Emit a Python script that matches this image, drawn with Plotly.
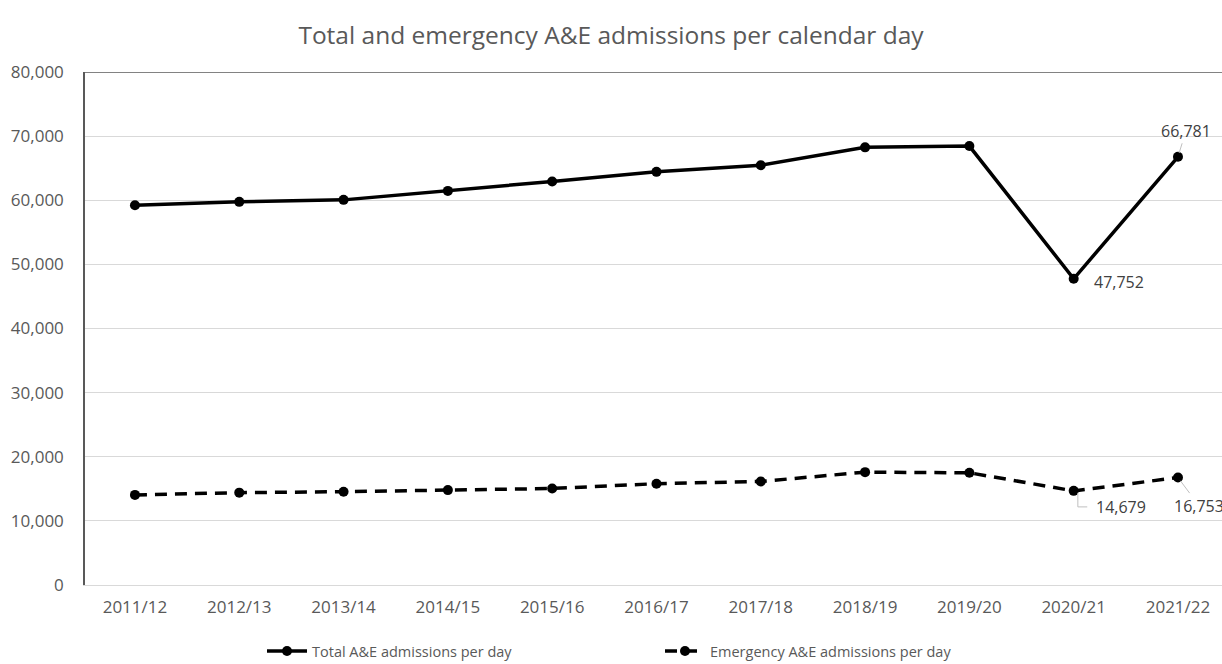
import plotly.graph_objects as go

years = ["2011/12", "2012/13", "2013/14", "2014/15", "2015/16", "2016/17",
         "2017/18", "2018/19", "2019/20", "2020/21", "2021/22"]
total = [59230, 59750, 60060, 61460, 62930, 64430, 65470, 68250, 68450, 47752, 66781]
emergency = [14050, 14400, 14550, 14800, 15050, 15800, 16150, 17600, 17500, 14679, 16753]
y_ticks = [0, 10000, 20000, 30000, 40000, 50000, 60000, 70000, 80000]

FONT = "'Open Sans', Calibri, sans-serif"
GRAY = "#595959"

fig = go.Figure()
fig.add_trace(go.Scatter(
    x=years, y=total, mode="lines+markers", name="Total A&E admissions per day",
    line=dict(color="black", width=3.5), marker=dict(size=10, color="black"),
    cliponaxis=False, legend="legend"))
fig.add_trace(go.Scatter(
    x=years, y=emergency, mode="lines+markers", name="Emergency A&E admissions per day",
    line=dict(color="black", width=3.5, dash="12px,8px"), marker=dict(size=10, color="black"),
    cliponaxis=False, legend="legend2"))

lab_font = dict(family=FONT, size=16, color="#404040")
# data labels
fig.add_annotation(x=years[10], y=total[10], text=f"{total[10]:,}", showarrow=True,
                   ax=8, ay=-26, arrowhead=0, arrowwidth=1, arrowcolor="#bfbfbf",
                   standoff=4, font=lab_font)
fig.add_annotation(x=years[9], y=total[9], text=f"{total[9]:,}", showarrow=False,
                   xanchor="left", yanchor="middle", xshift=18, yshift=-3, font=lab_font)
fig.add_annotation(x=years[9], y=emergency[9], text=f"{emergency[9]:,}", showarrow=False,
                   xanchor="left", yanchor="middle", xshift=20, yshift=-16, font=lab_font)
fig.add_annotation(x=years[10], y=emergency[10], text=f"{emergency[10]:,}", showarrow=True,
                   ax=21, ay=28, arrowhead=0, arrowwidth=1, arrowcolor="#bfbfbf",
                   standoff=4, font=lab_font)
# elbow leader line for 14,679
fig.add_shape(type="line", xref="x", yref="y", x0=9.04, x1=9.04, y0=emergency[9] - 300,
              y1=emergency[9] - 2500, line=dict(color="#bfbfbf", width=1))
fig.add_shape(type="line", xref="x", yref="y", x0=9.04, x1=9.13, y0=emergency[9] - 2500,
              y1=emergency[9] - 2500, line=dict(color="#bfbfbf", width=1))
# top border of plot area
fig.add_shape(type="line", xref="paper", yref="y", x0=0, x1=1, y0=80000, y1=80000,
              line=dict(color=GRAY, width=1.5))

leg_font = dict(family=FONT, size=14.5, color=GRAY)
leg_y = (664 - 651) / 664
fig.update_layout(
    width=1222, height=664,
    margin=dict(l=85, r=0, t=72, b=79, autoexpand=False),
    paper_bgcolor="white", plot_bgcolor="white",
    font=dict(family=FONT, color=GRAY),
    title=dict(text="Total and emergency A&E admissions per calendar day",
               x=0.5, xref="container", xanchor="center", y=0.947, yanchor="middle",
               font=dict(family=FONT, size=24.5, color=GRAY)),
    showlegend=True,
    legend=dict(orientation="h", x=262 / 1222, xref="container", xanchor="left",
                y=leg_y, yref="container", yanchor="middle", font=leg_font, itemwidth=40),
    legend2=dict(orientation="h", x=660 / 1222, xref="container", xanchor="left",
                 y=leg_y, yref="container", yanchor="middle", font=leg_font, itemwidth=40),
    xaxis=dict(type="category", range=[-0.479, 10.422], showgrid=False, automargin=False,
               showline=True, linecolor="#d9d9d9", linewidth=1, ticks="", tickangle=0,
               tickfont=dict(family=FONT, size=17, color=GRAY), ticklabelstandoff=7),
    yaxis=dict(range=[0, 80000], tickvals=y_ticks, tickformat=",d", automargin=False,
               showgrid=True, gridcolor="#d9d9d9", gridwidth=1,
               showline=True, linecolor=GRAY, linewidth=1.5, zeroline=False,
               ticks="", tickfont=dict(family=FONT, size=17, color=GRAY),
               ticklabelstandoff=16),
)

fig.write_html("out.html")
